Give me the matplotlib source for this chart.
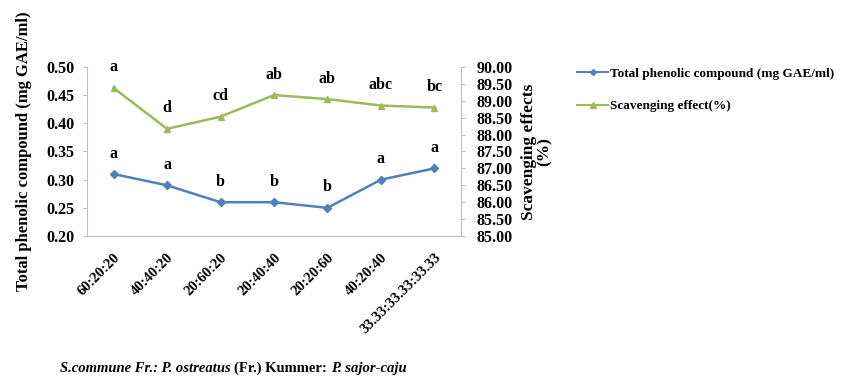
import matplotlib
matplotlib.use("Agg")
import matplotlib.pyplot as plt
from matplotlib.lines import Line2D

plt.rcParams['font.family'] = ['Liberation Serif', 'DejaVu Serif']
plt.rcParams['font.weight'] = 'bold'

ratios = ["60:20:20", "40:40:20", "20:60:20", "20:40:40", "20:20:60", "40:20:40", "33.33:33.33:33.33"]
phenolic = [0.31, 0.29, 0.26, 0.26, 0.25, 0.30, 0.32]
scavenging = [89.38, 88.17, 88.53, 89.17, 89.05, 88.86, 88.80]
phenolic_letters = ["a", "a", "b", "b", "b", "a", "a"]
scavenging_letters = ["a", "d", "cd", "ab", "ab", "abc", "bc"]
left_ticks = [0.20, 0.25, 0.30, 0.35, 0.40, 0.45, 0.50]
right_ticks = [85.0 + 0.5 * i for i in range(11)]

blue = "#4F81BD"
green = "#9BBB59"
spine_grey = "#BFBFBF"

fig = plt.figure(figsize=(8.43, 3.85), dpi=100)
ax = fig.add_axes([0.103, 0.387, 0.444, 0.439])
ax2 = ax.twinx()

x = list(range(len(ratios)))
ax.plot(x, phenolic, color=blue, marker="D", markersize=4, linewidth=1.8)
ax2.plot(x, scavenging, color=green, marker="^", markersize=5, linewidth=1.8)

for xi, v, lab in zip(x, phenolic, phenolic_letters):
    ax.annotate(lab, (xi, v), xytext=(0, 9), textcoords="offset points",
                ha="center", va="bottom", fontsize=11.5, fontweight="bold")
for xi, v, lab in zip(x, scavenging, scavenging_letters):
    ax2.annotate(lab, (xi, v), xytext=(0, 9), textcoords="offset points",
                 ha="center", va="bottom", fontsize=11.5, fontweight="bold")

ax.set_xlim(-0.5, len(ratios) - 0.5)
ax.set_ylim(0.20, 0.50)
ax2.set_ylim(85.0, 90.0)
ax.set_yticks(left_ticks)
ax.set_yticklabels([f"{t:.2f}" for t in left_ticks], fontsize=11.5, fontweight="bold")
ax2.set_yticks(right_ticks)
ax2.set_yticklabels([f"{t:.2f}" for t in right_ticks], fontsize=11.5, fontweight="bold")
ax.set_xticks(x)
ax.set_xticklabels(ratios, rotation=45, ha="right", rotation_mode="anchor", fontsize=10.5)

for a in (ax, ax2):
    a.spines["top"].set_visible(False)
    for s in ("left", "right", "bottom"):
        a.spines[s].set_color(spine_grey)
        a.spines[s].set_linewidth(0.8)
    a.tick_params(axis="both", color=spine_grey, length=3, width=0.8)
ax.spines["right"].set_visible(False)
ax2.spines["left"].set_visible(False)
ax2.spines["bottom"].set_visible(False)
ax.tick_params(axis="y", pad=6)
ax2.tick_params(axis="y", pad=8)
ax.tick_params(axis="x", length=0, pad=11)

ax.set_ylabel("Total phenolic compound (mg GAE/ml)", fontsize=12, fontweight="bold", labelpad=10)
ax2.set_ylabel("Scavenging effects\n(%)", fontsize=12.5, fontweight="bold", labelpad=6,
               linespacing=1.0)

handles = [Line2D([], [], color=blue, marker="D", markersize=3, linewidth=1.5),
           Line2D([], [], color=green, marker="^", markersize=4, linewidth=1.5)]
fig.legend(handles, ["Total phenolic compound (mg GAE/ml)", "Scavenging effect(%)"],
           loc="upper left", bbox_to_anchor=(0.67, 0.856), frameon=False,
           prop={"size": 9.5, "weight": "bold"}, handlelength=2.4, handletextpad=0.15,
           labelspacing=1.55)

# species label below the chart, chained italic and upright pieces
parts = [("S.commune Fr.: P. ostreatus ", "italic"), ("(Fr.) Kummer: ", "normal"),
         ("P. sajor-caju", "italic")]
fig.canvas.draw()
renderer = fig.canvas.get_renderer()
x0 = 0.071
for txt, st in parts:
    piece = fig.text(x0, 0.035, txt, fontsize=10.5, fontweight="bold", style=st, va="baseline")
    bb = piece.get_window_extent(renderer)
    x0 = bb.x1 / fig.bbox.width

fig.savefig("out.png", dpi=100)
